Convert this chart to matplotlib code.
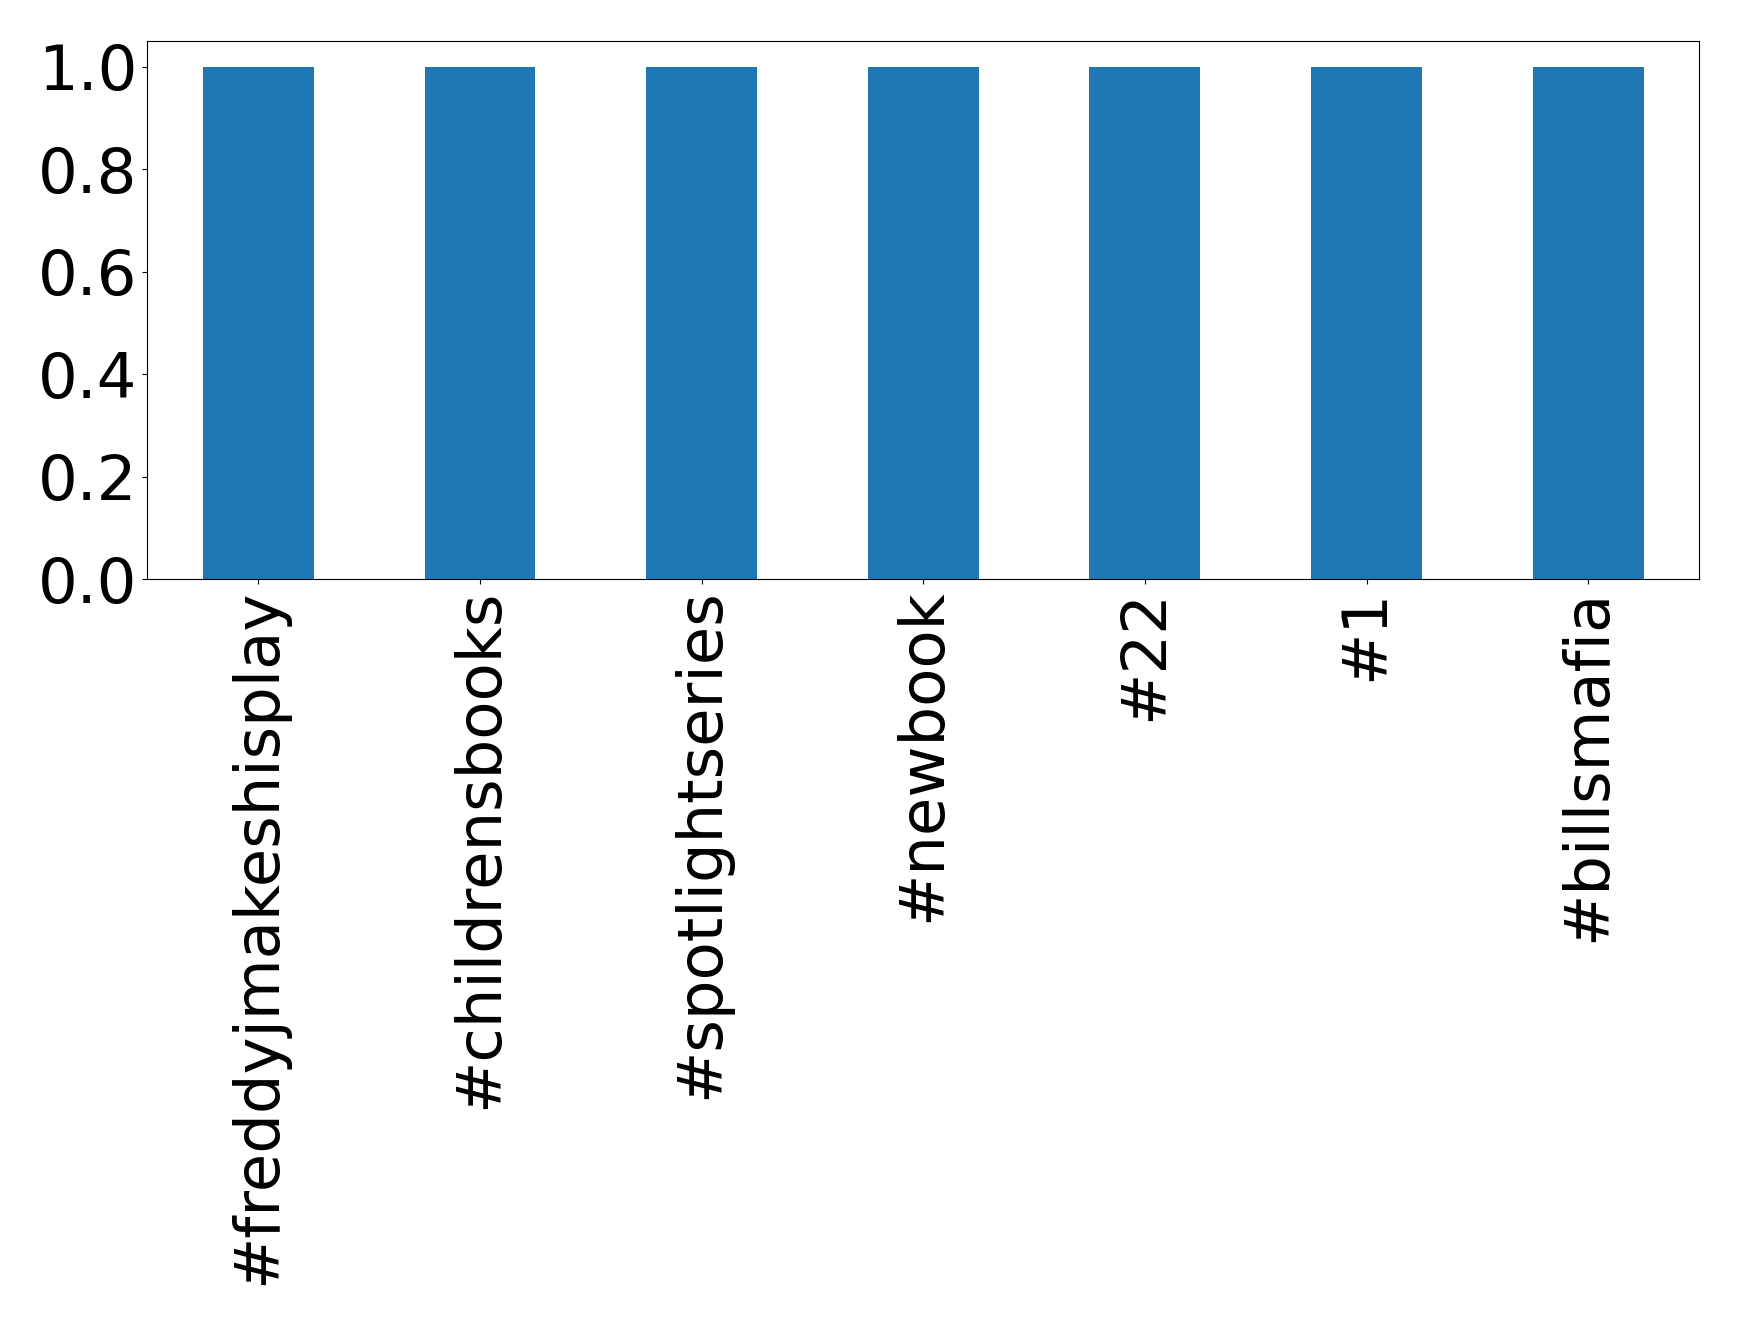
import matplotlib
matplotlib.use("Agg")
import matplotlib.pyplot as plt
import pandas as pd

# hashtag counts
hashtags = ['#freddyjmakeshisplay', '#childrensbooks', '#spotlightseries',
            '#newbook', '#22', '#1', '#billsmafia']
counts = [1, 1, 1, 1, 1, 1, 1]

s = pd.Series(counts, index=hashtags)

fig = plt.figure(figsize=(17.39, 13.25), dpi=100)
ax = fig.add_axes([0.0848, 0.563, 0.8922, 0.406])
s.plot(kind='bar', ax=ax, color='#1f77b4', width=0.5)
ax.tick_params(axis='both', labelsize=45)
ax.set_yticks([0.0, 0.2, 0.4, 0.6, 0.8, 1.0])
plt.setp(ax.get_xticklabels(), rotation=90)

fig.savefig('out.png', dpi=100)
